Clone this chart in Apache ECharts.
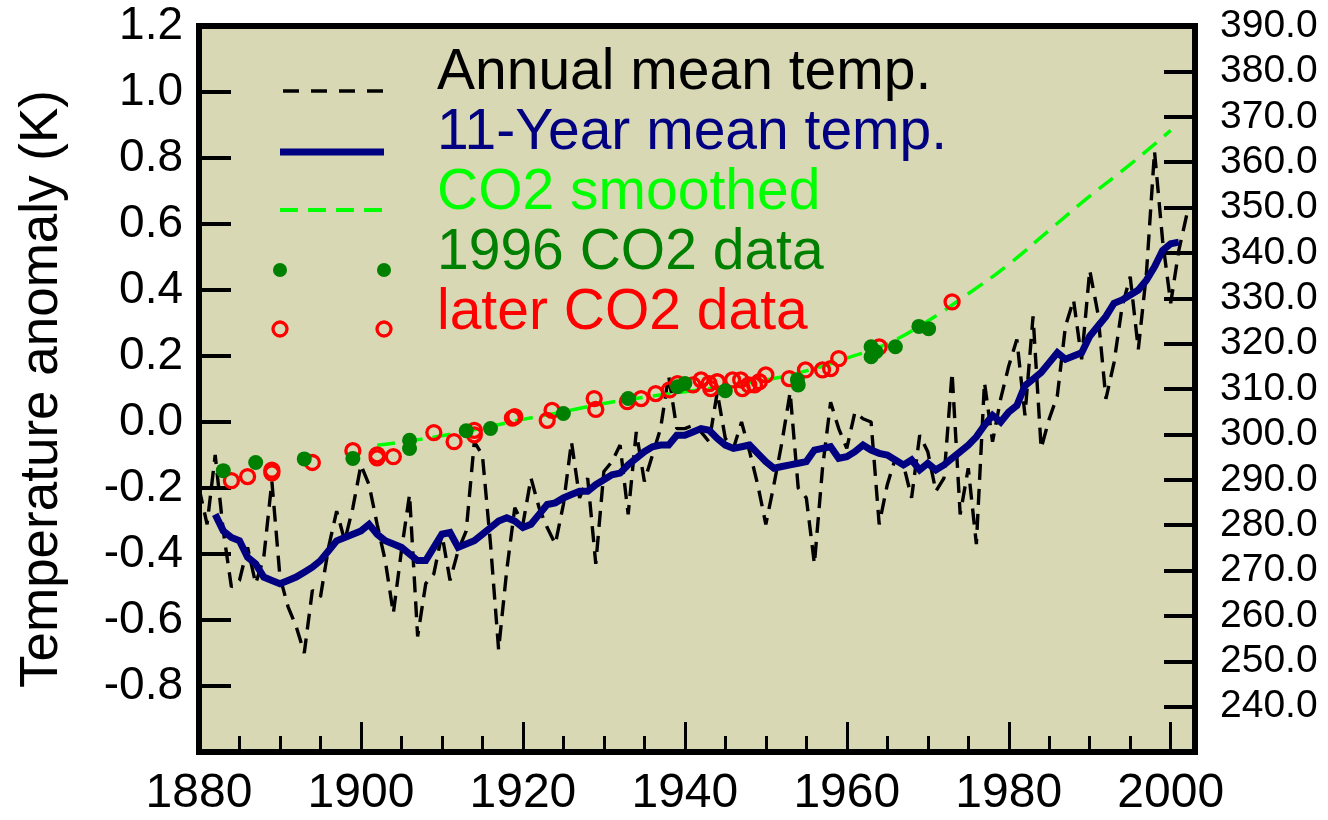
<!DOCTYPE html>
<html><head><meta charset="utf-8">
<script src="https://cdn.jsdelivr.net/npm/echarts@6/dist/echarts.min.js"></script>
<style>html,body{margin:0;padding:0;background:#fff}#c{width:1328px;height:820px}</style>
</head><body><div id="c"></div>
<script>
// ---- data ----
const years = [1880,1881,1882,1883,1884,1885,1886,1887,1888,1889,1890,1891,1892,1893,1894,1895,1896,1897,1898,1899,
1900,1901,1902,1903,1904,1905,1906,1907,1908,1909,1910,1911,1912,1913,1914,1915,1916,1917,1918,1919,
1920,1921,1922,1923,1924,1925,1926,1927,1928,1929,1930,1931,1932,1933,1934,1935,1936,1937,1938,1939,
1940,1941,1942,1943,1944,1945,1946,1947,1948,1949,1950,1951,1952,1953,1954,1955,1956,1957,1958,1959,
1960,1961,1962,1963,1964,1965,1966,1967,1968,1969,1970,1971,1972,1973,1974,1975,1976,1977,1978,1979,
1980,1981,1982,1983,1984,1985,1986,1987,1988,1989,1990,1991,1992,1993,1994,1995,1996,1997,1998,1999,
2000,2001,2002];
const annualTemp = [-0.20,-0.31,-0.10,-0.33,-0.50,-0.48,-0.38,-0.49,-0.41,-0.18,-0.47,-0.56,-0.62,-0.70,-0.51,-0.53,-0.38,-0.27,-0.36,-0.26,
-0.13,-0.19,-0.31,-0.42,-0.58,-0.39,-0.22,-0.65,-0.49,-0.46,-0.34,-0.48,-0.39,-0.33,-0.06,-0.10,-0.37,-0.69,-0.45,-0.26,
-0.31,-0.17,-0.26,-0.32,-0.37,-0.25,-0.06,-0.23,-0.17,-0.43,-0.15,-0.12,-0.07,-0.28,-0.03,-0.18,-0.10,-0.02,0.14,-0.02,
-0.02,-0.01,-0.03,-0.06,0.09,-0.05,-0.08,0.00,-0.09,-0.19,-0.31,-0.19,-0.06,0.09,-0.20,-0.23,-0.43,-0.14,0.06,-0.02,
-0.08,0.03,0.01,0.00,-0.31,-0.19,-0.11,-0.13,-0.23,-0.04,-0.09,-0.21,-0.17,0.15,-0.28,-0.14,-0.37,0.12,-0.06,0.07,
0.17,0.25,0.02,0.32,-0.08,0.01,0.08,0.29,0.37,0.19,0.46,0.33,0.07,0.18,0.35,0.44,0.22,0.45,0.82,0.55,
0.36,0.52,0.63];

const meanYears = [1882,1883,1884,1885,1886,1887,1888,1889,1890,1891,1892,1893,1894,1895,1896,1897,1898,1899,
1900,1901,1902,1903,1904,1905,1906,1907,1908,1909,1910,1911,1912,1913,1914,1915,1916,1917,1918,1919,
1920,1921,1922,1923,1924,1925,1926,1927,1928,1929,1930,1931,1932,1933,1934,1935,1936,1937,1938,1939,
1940,1941,1942,1943,1944,1945,1946,1947,1948,1949,1950,1951,1952,1953,1954,1955,1956,1957,1958,1959,
1960,1961,1962,1963,1964,1965,1966,1967,1968,1969,1970,1971,1972,1973,1974,1975,1976,1977,1978,1979,
1980,1981,1982,1983,1984,1985,1986,1987,1988,1989,1990,1991,1992,1993,1994,1995,1996,1997,1998,1999,
2000,2001];
const mean11 = [-0.28,-0.33,-0.35,-0.36,-0.41,-0.43,-0.47,-0.48,-0.49,-0.48,-0.47,-0.455,-0.44,-0.42,-0.39,-0.36,-0.35,-0.34,
-0.33,-0.31,-0.34,-0.36,-0.37,-0.38,-0.40,-0.42,-0.42,-0.38,-0.34,-0.335,-0.38,-0.37,-0.36,-0.34,-0.32,-0.30,-0.29,-0.30,
-0.32,-0.31,-0.28,-0.25,-0.245,-0.23,-0.22,-0.21,-0.21,-0.19,-0.175,-0.16,-0.155,-0.13,-0.11,-0.09,-0.075,-0.07,-0.07,-0.04,
-0.04,-0.03,-0.02,-0.025,-0.05,-0.07,-0.08,-0.075,-0.07,-0.095,-0.12,-0.14,-0.135,-0.13,-0.125,-0.12,-0.085,-0.08,-0.075,-0.11,
-0.105,-0.09,-0.07,-0.085,-0.095,-0.10,-0.115,-0.13,-0.115,-0.145,-0.125,-0.145,-0.13,-0.11,-0.09,-0.07,-0.045,-0.01,0.02,0.00,
0.03,0.05,0.11,0.13,0.15,0.18,0.21,0.19,0.20,0.21,0.26,0.29,0.32,0.36,0.37,0.385,0.40,0.43,0.47,0.52,
0.54,0.545];

const co2SmoothYears = [1902,1905,1910,1915,1920,1925,1930,1935,1940,1945,1950,1955,1960,1965,1970,1975,1980,1985,1990,1995,2000];
const co2Smooth = [297.6,298.3,299.7,301.4,303.3,305.0,306.8,308.2,309.4,310.6,312.0,314.0,316.8,320.0,325.0,331.0,337.5,345.0,352.5,359.5,367.0];

const co2_1996Years = [1883,1887,1893,1899,1906,1906,1913,1916,1925,1933,1939.1,1940,1945,1953.9,1954,1963,1963,1963.6,1966,1968.9,1970.1];
const co2_1996 = [292.0,293.8,294.6,294.7,298.7,296.9,300.8,301.3,304.6,307.9,310.5,311.2,309.6,312.0,310.9,319.3,317.1,318.2,319.3,323.8,323.3];

const co2LaterYears = [1884,1886,1889,1889,1894,1899,1902,1902,1904,1909,1911.5,1914,1914,1918.7,1919,1923,1923.6,1928.8,1929,1932.9,
1934.6,1936.4,1938.1,1939.1,1941,1942,1943,1943.2,1944,1945.9,1946.9,1947.1,1947.9,1948.6,1949.2,1950,1952.9,1954.9,1957,1958,
1959,1964,1973];
const co2Later = [289.8,290.7,292.1,291.5,293.8,296.4,295.5,294.8,295.1,300.4,298.4,300.9,299.9,303.6,303.9,303.1,305.3,307.9,305.5,307.2,
307.9,309.0,309.8,311.2,310.9,312.0,311.2,310.1,311.6,312.0,312.0,310.1,310.9,310.9,311.6,313.1,312.3,314.2,314.2,314.5,
316.7,319.3,329.2];

const legendLabels = ['Annual mean temp.','11-Year mean temp.','CO2 smoothed','1996 CO2 data','later CO2 data'];
const tempAxisName = 'Temperature anomaly (K)';

// ---- build ----
const pair = (xs, ys) => xs.map((x, i) => [x, ys[i]]);
const FONT = '"Liberation Sans", Arial, Helvetica, sans-serif';
const BG = '#d9d8b5';
const chart = echarts.init(document.getElementById('c'));
const fmt1 = v => (Math.abs(v) < 1e-9 ? 0 : v).toFixed(1);

const legendColors = ['#000000', '#000080', '#00ff00', '#008000', '#ff0000'];
const legendRowsY = [70, 130, 190, 250, 310];
const graphic = [];
legendLabels.forEach((t, i) => {
  graphic.push({type: 'text', left: 437, top: legendRowsY[i] - 25, z: 50,
    style: {text: t, fill: legendColors[i], font: '57px ' + FONT}});
});
graphic.push({type: 'line', z: 50, shape: {x1: 283, y1: 91, x2: 384, y2: 91}, style: {stroke: '#000', lineWidth: 3.3, lineDash: [16, 12]}});
graphic.push({type: 'line', z: 50, shape: {x1: 280, y1: 152, x2: 384, y2: 152}, style: {stroke: '#000080', lineWidth: 7}});
graphic.push({type: 'line', z: 50, shape: {x1: 280, y1: 210, x2: 384, y2: 210}, style: {stroke: '#00ff00', lineWidth: 4, lineDash: [18, 10]}});
[280, 384].forEach(cx => {
  graphic.push({type: 'circle', z: 50, shape: {cx: cx, cy: 270, r: 7}, style: {fill: '#008000'}});
  graphic.push({type: 'circle', z: 50, shape: {cx: cx, cy: 329, r: 7}, style: {fill: 'none', stroke: '#ff0000', lineWidth: 3.3}});
});

// year-tick helper axes: a band inside the plot whose TOP edge carries inward (downward) ticks
// that end exactly on the plot's bottom edge
const tickAxis = (gridIndex, interval, length) => ({
  type: 'value', gridIndex: gridIndex, min: 1880, max: 2003, interval: interval, position: 'top',
  axisLine: {show: false, onZero: false}, splitLine: {show: false}, axisLabel: {show: false},
  axisTick: {show: true, inside: true, length: length, lineStyle: {color: '#000', width: 3}}
});

const option = {
  animation: false,
  backgroundColor: '#ffffff',
  grid: [
    {show: true, left: 199, top: 26, width: 996, height: 726, backgroundColor: BG, borderColor: '#000', borderWidth: 6},
    {show: false, left: 199, top: 722, width: 996, height: 30},
    {show: false, left: 199, top: 736, width: 996, height: 16}
  ],
  xAxis: [
    {type: 'value', gridIndex: 0, min: 1880, max: 2003, interval: 20, position: 'bottom',
     axisLine: {show: false, onZero: false}, splitLine: {show: false},
     axisTick: {show: true, inside: true, length: 30, lineStyle: {color: '#000', width: 3}},
     axisLabel: {show: true, showMaxLabel: false, margin: 18, fontSize: 48, color: '#000', fontFamily: FONT,
                 formatter: v => String(v)}},
    tickAxis(1, 20, 30),
    tickAxis(2, 5, 16)
  ],
  yAxis: [
    {type: 'value', gridIndex: 0, min: -1.0, max: 1.2, interval: 0.2, position: 'left',
     name: tempAxisName, nameLocation: 'middle', nameRotate: 90, nameGap: 130,
     nameTextStyle: {fontSize: 53, color: '#000', fontFamily: FONT},
     axisLine: {show: false}, splitLine: {show: false},
     axisTick: {show: true, inside: true, length: 32, lineStyle: {color: '#000', width: 4}},
     axisLabel: {showMinLabel: false, margin: 16, fontSize: 46, color: '#000', fontFamily: FONT, formatter: fmt1}},
    {type: 'value', gridIndex: 0, min: 230, max: 390, interval: 10, position: 'right',
     axisLine: {show: false}, splitLine: {show: false},
     axisTick: {show: true, inside: true, length: 31, lineStyle: {color: '#000', width: 4}},
     axisLabel: {showMinLabel: false, margin: 25, fontSize: 39, color: '#000', fontFamily: FONT, formatter: fmt1,
                 padding: [7, 0, 0, 0]}},
    {type: 'value', gridIndex: 1, min: 0, max: 1, show: false},
    {type: 'value', gridIndex: 2, min: 0, max: 1, show: false}
  ],
  series: [
    {name: legendLabels[0], type: 'line', xAxisIndex: 0, yAxisIndex: 0, data: pair(years, annualTemp),
     symbol: 'none', z: 2, lineStyle: {color: '#000', width: 3.4, type: [16, 9]}},
    {name: legendLabels[1], type: 'line', xAxisIndex: 0, yAxisIndex: 0, data: pair(meanYears, mean11),
     symbol: 'none', z: 3, lineStyle: {color: '#000080', width: 7, join: 'miter'}},
    {name: legendLabels[2], type: 'line', xAxisIndex: 0, yAxisIndex: 1, data: pair(co2SmoothYears, co2Smooth),
     symbol: 'none', smooth: true, z: 4, lineStyle: {color: '#00ff00', width: 3.5, type: [18, 10]}},
    {name: legendLabels[4], type: 'scatter', xAxisIndex: 0, yAxisIndex: 1, data: pair(co2LaterYears, co2Later),
     symbol: 'circle', symbolSize: 14, z: 5, itemStyle: {color: 'rgba(0,0,0,0)', borderColor: '#ff0000', borderWidth: 3.3, opacity: 1}},
    {name: legendLabels[3], type: 'scatter', xAxisIndex: 0, yAxisIndex: 1, data: pair(co2_1996Years, co2_1996),
     symbol: 'circle', symbolSize: 15, z: 6, itemStyle: {color: '#008000', opacity: 1}}
  ],
  graphic: graphic
};
chart.setOption(option);
</script></body></html>
